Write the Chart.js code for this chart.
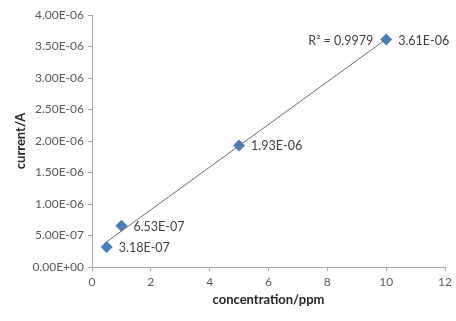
<!DOCTYPE html>
<html>
<head>
<meta charset="utf-8">
<script src="https://cdn.jsdelivr.net/npm/chart.js@4.4.1/dist/chart.umd.min.js"></script>
<style>
  html, body { margin: 0; padding: 0; background: #fff; }
  #wrap { width: 456px; height: 321px; }
</style>
</head>
<body>
<div id="wrap"><canvas id="c" width="456" height="321"></canvas></div>
<script>
// Calibration data: concentration (ppm) vs measured current (A)
const concentration = [0.5, 1, 5, 10];
const current = [3.18e-7, 6.53e-7, 1.93e-6, 3.61e-6];
const pointLabels = ['3.18E-07', '6.53E-07', '1.93E-06', '3.61E-06'];
const rSquaredLabel = 'R\u00B2 = 0.9979';
const xTickLabels = ['0', '2', '4', '6', '8', '10', '12'];
const yTickLabels = ['0.00E+00', '5.00E-07', '1.00E-06', '1.50E-06', '2.00E-06',
                     '2.50E-06', '3.00E-06', '3.50E-06', '4.00E-06'];

// Least-squares linear trendline through the measured points
function linearFit(xs, ys) {
  const n = xs.length;
  const mx = xs.reduce((a, b) => a + b, 0) / n;
  const my = ys.reduce((a, b) => a + b, 0) / n;
  let sxy = 0, sxx = 0;
  for (let i = 0; i < n; i++) {
    sxy += (xs[i] - mx) * (ys[i] - my);
    sxx += (xs[i] - mx) * (xs[i] - mx);
  }
  const slope = sxy / sxx;
  return { slope, intercept: my - slope * mx };
}
const fit = linearFit(concentration, current);
const xMin = Math.min(...concentration), xMax = Math.max(...concentration);
const trend = [xMin, xMax].map(x => ({ x, y: fit.intercept + fit.slope * x }));

const FONT = 'Lato, "Open Sans", sans-serif';
const axisGray = '#a6a6a6';

// Value labels beside each marker, plus the R² note by the last point
const labelPlugin = {
  id: 'valueLabels',
  afterDatasetsDraw(chart) {
    const ctx = chart.ctx;
    const meta = chart.getDatasetMeta(1);
    ctx.save();
    ctx.font = '12.5px ' + FONT;
    ctx.fillStyle = '#404040';
    ctx.textBaseline = 'middle';
    ctx.textAlign = 'left';
    meta.data.forEach((pt, i) => {
      ctx.fillText(pointLabels[i], pt.x + 12, pt.y + 1);
    });
    const last = meta.data[meta.data.length - 1];
    ctx.textAlign = 'right';
    ctx.fillText(rSquaredLabel, last.x - 13, last.y + 1);
    ctx.restore();
  }
};

new Chart(document.getElementById('c'), {
  type: 'scatter',
  data: {
    datasets: [
      {
        type: 'line',
        data: trend,
        borderColor: '#6e6e6e',
        borderWidth: 1,
        pointRadius: 0,
        fill: false
      },
      {
        data: concentration.map((x, i) => ({ x, y: current[i] })),
        pointStyle: 'rectRot',
        pointRadius: 6,
        backgroundColor: '#4a7ebb',
        borderColor: '#4a7ebb',
        borderWidth: 0
      }
    ]
  },
  options: {
    responsive: false,
    animation: false,
    layout: { padding: { top: 15, right: 11, left: 0, bottom: 0 } },
    plugins: { legend: { display: false }, tooltip: { enabled: false } },
    scales: {
      x: {
        type: 'linear',
        min: 0, max: 12,
        ticks: {
          stepSize: 2,
          color: '#595959',
          font: { family: FONT, size: 12 },
          padding: 4,
          callback: (v, i) => xTickLabels[i]
        },
        grid: { display: true, drawOnChartArea: false, drawTicks: true, tickLength: 4, color: axisGray },
        border: { color: axisGray, width: 1 },
        title: {
          display: true,
          text: 'concentration/ppm',
          color: '#262626',
          font: { family: FONT, size: 13, weight: 'bold' },
          padding: { top: 0, bottom: 13 }
        },
        afterFit: s => { s.height = 54; }
      },
      y: {
        type: 'linear',
        min: 0, max: 4e-6,
        ticks: {
          stepSize: 5e-7,
          color: '#595959',
          font: { family: FONT, size: 12 },
          padding: 4,
          callback: (v, i) => yTickLabels[i]
        },
        grid: { display: true, drawOnChartArea: false, drawTicks: true, tickLength: 4, color: axisGray },
        border: { color: axisGray, width: 1 },
        title: {
          display: true,
          text: 'current/A',
          color: '#262626',
          font: { family: FONT, size: 13, weight: 'bold' },
          padding: { top: 13, bottom: 0 }
        },
        afterFit: s => { s.width = 92; }
      }
    }
  },
  plugins: [labelPlugin]
});
</script>
</body>
</html>
